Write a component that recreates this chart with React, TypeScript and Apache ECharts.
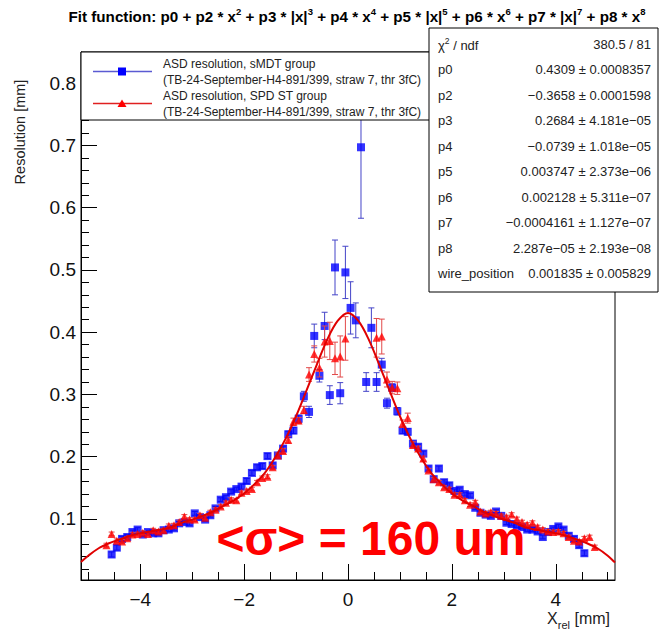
import React, { useEffect, useRef } from "react";
import * as echarts from "echarts";

// ---------- data ----------
const blueX = [
  -4.55, -4.45, -4.35, -4.25, -4.15, -4.05, -3.95, -3.85, -3.75, -3.65, -3.55, -3.45, -3.35, -3.25, -3.15, -3.05,
  -2.95, -2.85, -2.75, -2.65, -2.55, -2.45, -2.35, -2.25, -2.15, -2.05, -1.95, -1.85, -1.75, -1.65, -1.55, -1.45,
  -1.35, -1.25, -1.15, -1.05, -0.95, -0.85, -0.75, -0.65, -0.55, -0.45, -0.35, -0.25, -0.15, -0.05,
  0.05, 0.15, 0.25, 0.35, 0.45, 0.55, 0.65, 0.75, 0.85, 0.95, 1.05, 1.15, 1.25, 1.35, 1.45, 1.55,
  1.65, 1.75, 1.85, 1.95, 2.05, 2.15, 2.25, 2.35, 2.45, 2.55, 2.65, 2.75, 2.85, 2.95, 3.05, 3.15,
  3.25, 3.35, 3.45, 3.55, 3.65, 3.75, 3.85, 3.95, 4.05, 4.15, 4.25, 4.35, 4.45, 4.55,
];
const blueY = [
  0.043, 0.054, 0.068, 0.071, 0.079, 0.083, 0.075, 0.079, 0.077, 0.077, 0.082, 0.083, 0.085, 0.093, 0.095, 0.093,
  0.109, 0.103, 0.099, 0.106, 0.117, 0.131, 0.135, 0.144, 0.148, 0.152, 0.161, 0.174, 0.183, 0.185, 0.201, 0.186,
  0.202, 0.213, 0.236, 0.242, 0.261, 0.297, 0.272, 0.394, 0.330, 0.410, 0.299, 0.504, 0.302, 0.496,
  0.439, 0.419, 0.697, 0.320, 0.407, 0.320, 0.348, 0.286, 0.311, 0.273, 0.242, 0.240, 0.221, 0.216, 0.205, 0.181,
  0.164, 0.181, 0.159, 0.154, 0.145, 0.147, 0.140, 0.138, 0.118, 0.110, 0.107, 0.105, 0.112, 0.105, 0.094, 0.092,
  0.089, 0.087, 0.083, 0.083, 0.080, 0.071, 0.079, 0.084, 0.088, 0.083, 0.073, 0.068, 0.058, 0.045,
];
const blueErr = [
  0.004, 0.004, 0.004, 0.004, 0.003, 0.003, 0.003, 0.003, 0.003, 0.003, 0.003, 0.003, 0.003, 0.003, 0.003, 0.003,
  0.003, 0.003, 0.003, 0.003, 0.003, 0.003, 0.003, 0.003, 0.003, 0.004, 0.004, 0.004, 0.004, 0.004, 0.004, 0.004,
  0.004, 0.004, 0.005, 0.005, 0.006, 0.008, 0.009, 0.019, 0.010, 0.022, 0.015, 0.044, 0.017, 0.042,
  0.042, 0.028, 0.114, 0.015, 0.032, 0.015, 0.010, 0.008, 0.006, 0.006, 0.005, 0.005, 0.004, 0.004, 0.004, 0.004,
  0.004, 0.004, 0.004, 0.004, 0.003, 0.003, 0.003, 0.003, 0.003, 0.003, 0.003, 0.003, 0.003, 0.003, 0.003, 0.003,
  0.003, 0.003, 0.003, 0.003, 0.003, 0.003, 0.003, 0.003, 0.003, 0.003, 0.004, 0.004, 0.004, 0.004,
];

const redX = [
  -4.65, -4.55, -4.45, -4.35, -4.25, -4.15, -4.05, -3.95, -3.85, -3.75, -3.65, -3.55, -3.45, -3.35, -3.25, -3.15,
  -3.05, -2.95, -2.85, -2.75, -2.65, -2.55, -2.45, -2.35, -2.25, -2.15, -2.05, -1.95, -1.85, -1.75, -1.65, -1.55,
  -1.45, -1.35, -1.25, -1.15, -1.05, -0.95, -0.85, -0.75, -0.65, -0.55, -0.45, -0.35, -0.25, -0.15, -0.05,
  0.55, 0.65, 0.75, 0.85, 0.95, 1.05, 1.15, 1.25, 1.35, 1.45, 1.55, 1.65, 1.75, 1.85, 1.95, 2.05,
  2.15, 2.25, 2.35, 2.45, 2.55, 2.65, 2.75, 2.85, 2.95, 3.05, 3.15, 3.25, 3.35, 3.45, 3.55, 3.65,
  3.75, 3.85, 3.95, 4.05, 4.15, 4.25, 4.35, 4.45, 4.55, 4.65, 4.75,
];
const redY = [
  0.058, 0.076, 0.065, 0.064, 0.069, 0.075, 0.076, 0.078, 0.076, 0.082, 0.080, 0.082, 0.089, 0.090, 0.095, 0.104,
  0.099, 0.099, 0.106, 0.102, 0.111, 0.115, 0.120, 0.126, 0.131, 0.130, 0.142, 0.145, 0.148, 0.159, 0.166, 0.168,
  0.183, 0.202, 0.209, 0.227, 0.256, 0.258, 0.275, 0.332, 0.365, 0.343, 0.385, 0.386, 0.358, 0.361, 0.390,
  0.391, 0.393, 0.324, 0.311, 0.310, 0.253, 0.262, 0.219, 0.213, 0.197, 0.178, 0.164, 0.159, 0.151, 0.148, 0.139,
  0.139, 0.130, 0.123, 0.127, 0.112, 0.109, 0.111, 0.109, 0.105, 0.103, 0.107, 0.100, 0.095, 0.091, 0.094, 0.087,
  0.083, 0.080, 0.079, 0.080, 0.077, 0.071, 0.065, 0.064, 0.069, 0.071, 0.055,
];
const redErr = [
  0.003, 0.003, 0.003, 0.003, 0.003, 0.003, 0.003, 0.003, 0.003, 0.003, 0.003, 0.003, 0.003, 0.003, 0.003, 0.003,
  0.003, 0.003, 0.003, 0.003, 0.003, 0.003, 0.003, 0.003, 0.003, 0.003, 0.003, 0.003, 0.003, 0.003, 0.003, 0.003,
  0.003, 0.004, 0.004, 0.005, 0.006, 0.005, 0.006, 0.011, 0.013, 0.015, 0.025, 0.030, 0.026, 0.033, 0.035,
  0.031, 0.028, 0.012, 0.010, 0.010, 0.006, 0.008, 0.005, 0.004, 0.004, 0.003, 0.003, 0.003, 0.003, 0.003, 0.003,
  0.003, 0.003, 0.003, 0.003, 0.003, 0.003, 0.003, 0.003, 0.003, 0.003, 0.003, 0.003, 0.003, 0.003, 0.003, 0.003,
  0.003, 0.003, 0.003, 0.003, 0.003, 0.003, 0.003, 0.003, 0.003, 0.003, 0.003,
];

// fit curve
const fitX = [
  -5.14, -5.0, -4.8, -4.6, -4.4, -4.2, -4.0, -3.8, -3.6, -3.4, -3.2, -3.0, -2.8, -2.6, -2.4, -2.2, -2.0, -1.8,
  -1.6, -1.4, -1.2, -1.0, -0.8, -0.6, -0.4, -0.2, 0, 0.2, 0.4, 0.6, 0.8, 1.0, 1.2, 1.4, 1.6, 1.8, 2.0, 2.2, 2.4,
  2.6, 2.8, 3.0, 3.2, 3.4, 3.6, 3.8, 4.0, 4.2, 4.4, 4.6, 4.8, 5.0, 5.14,
];
const fitY = [
  0.031, 0.041, 0.053, 0.061, 0.067, 0.073, 0.077, 0.080, 0.083, 0.087, 0.094, 0.099, 0.105, 0.112, 0.121, 0.130,
  0.141, 0.156, 0.174, 0.199, 0.229, 0.265, 0.306, 0.348, 0.388, 0.418, 0.431, 0.418, 0.388, 0.348, 0.306, 0.265,
  0.229, 0.199, 0.174, 0.156, 0.141, 0.130, 0.121, 0.112, 0.105, 0.099, 0.094, 0.087, 0.083, 0.080, 0.077, 0.073,
  0.067, 0.061, 0.053, 0.041, 0.030,
];

const xMajorTicks = [-4, -2, 0, 2, 4];
const xMinorTicks = [-5, -4.5, -3.5, -3, -2.5, -1.5, -1, -0.5, 0.5, 1, 1.5, 2.5, 3, 3.5, 4.5, 5];
const yMajorTicks = [0.1, 0.2, 0.3, 0.4, 0.5, 0.6, 0.7, 0.8];
const yMinorTicks = [
  0.02, 0.04, 0.06, 0.08, 0.12, 0.14, 0.16, 0.18, 0.22, 0.24, 0.26, 0.28, 0.32, 0.34, 0.36, 0.38, 0.42, 0.44, 0.46,
  0.48, 0.52, 0.54, 0.56, 0.58, 0.62, 0.64, 0.66, 0.68, 0.72, 0.74, 0.76, 0.78, 0.82, 0.84,
];

const statLabels = ["p0", "p2", "p3", "p4", "p5", "p6", "p7", "p8", "wire_position"];
const statValues = [
  "0.4309 \u00b1 0.0008357",
  "\u22120.3658 \u00b1 0.0001598",
  "0.2684 \u00b1 4.181e\u221205",
  "\u22120.0739 \u00b1 1.018e\u221205",
  "0.003747 \u00b1 2.373e\u221206",
  "0.002128 \u00b1 5.311e\u221207",
  "\u22120.0004161 \u00b1 1.127e\u221207",
  "2.287e\u221205 \u00b1 2.193e\u221208",
  "0.001835 \u00b1 0.005829",
];
const chiValue = "380.5 / 81";
const legendNames = ["ASD resolution, sMDT group", "ASD resolution, SPD ST group"];
const legendSub = "(TB-24-September-H4-891/399, straw 7, thr 3fC)";

const X_MIN = -5.14;
const X_MAX = 5.14;
const Y_MIN = 0.002;
const Y_MAX = 0.85;

const FONT = "'Liberation Sans', Arial, Helvetica, sans-serif";
const BLUE = "#0000ff";
const BLUE_BAR = "#4444c8";
const RED = "#ff0000";
const RED_BAR = "#e24a4a";

function zip3(xs: number[], ys: number[], es: number[]) {
  return xs.map((x, i) => [x, ys[i], es[i]]);
}

function errRender(color: string) {
  return (params: any, api: any) => {
    const x = api.value(0);
    const y = api.value(1);
    const e = api.value(2);
    const top = api.coord([x, y + e]);
    const bot = api.coord([x, y - e]);
    const st = { stroke: color, lineWidth: 1 };
    return {
      type: "group",
      children: [
        { type: "line", shape: { x1: top[0], y1: top[1], x2: bot[0], y2: bot[1] }, style: st },
        { type: "line", shape: { x1: top[0] - 3, y1: top[1], x2: top[0] + 3, y2: top[1] }, style: st },
        { type: "line", shape: { x1: bot[0] - 3, y1: bot[1], x2: bot[0] + 3, y2: bot[1] }, style: st },
      ],
    };
  };
}

function minusFmt(v: number) {
  return v < 0 ? "\u2212" + Math.abs(v) : String(v);
}

export default function App() {
  const ref = useRef<HTMLDivElement>(null);
  useEffect(() => {
    if (!ref.current) return;
    const chart = echarts.init(ref.current, null, { renderer: "svg" });

    const baseAxis = { type: "value", splitLine: { show: false } };
    const titleRich =
      "{b|Fit function: p0 + p2 * x}{s|2}{b| + p3 * |x|}{s|3}{b| + p4 * x}{s|4}{b| + p5 * |x|}{s|5}" +
      "{b| + p6 * x}{s|6}{b| + p7 * |x|}{s|7}{b| + p8 * x}{s|8}";

    const statTop = 28;
    const statLeft = 429;
    const statRight = 658;
    const rowStep = 25.5;
    const graphics: any[] = [];

    // title
    graphics.push({
      type: "text",
      z: 20,
      style: {
        x: 357,
        y: 15,
        text: titleRich,
        textAlign: "center",
        textVerticalAlign: "middle",
        rich: {
          b: { fontSize: 15.2, fontWeight: "bold", fontFamily: FONT, fill: "#000", lineHeight: 18, verticalAlign: "bottom" },
          s: { fontSize: 9.5, fontWeight: "bold", fontFamily: FONT, fill: "#000", lineHeight: 13, verticalAlign: "top" },
        },
      },
    });

    // legend box
    graphics.push({
      type: "rect",
      z: 20,
      shape: { x: 81, y: 52, width: 349, height: 68 },
      style: { fill: "#fff", stroke: "#000", lineWidth: 1 },
    });
    const legRows = [63.5, 79.5, 95.5, 111.5];
    graphics.push(
      { type: "line", z: 21, shape: { x1: 93, y1: 71.5, x2: 152, y2: 71.5 }, style: { stroke: "#5a5ad2", lineWidth: 1.5 } },
      { type: "rect", z: 22, shape: { x: 118, y: 67.5, width: 8, height: 8 }, style: { fill: BLUE } },
      { type: "line", z: 21, shape: { x1: 93, y1: 103.5, x2: 152, y2: 103.5 }, style: { stroke: "#e02020", lineWidth: 1.5 } },
      {
        type: "polygon",
        z: 22,
        shape: { points: [[122, 99.5], [126.5, 107], [117.5, 107]] },
        style: { fill: RED },
      }
    );
    const legTexts = [legendNames[0], legendSub, legendNames[1], legendSub];
    legTexts.forEach((t, i) => {
      graphics.push({
        type: "text",
        z: 22,
        style: {
          x: 163,
          y: legRows[i],
          text: t,
          fontSize: 12,
          fontFamily: FONT,
          fill: "#222",
          textAlign: "left",
          textVerticalAlign: "middle",
        },
      });
    });

    // stats box
    graphics.push({
      type: "rect",
      z: 20,
      shape: { x: statLeft, y: statTop, width: statRight - statLeft, height: 264 },
      style: { fill: "#fff", stroke: "#000", lineWidth: 1 },
    });
    graphics.push({
      type: "text",
      z: 22,
      style: {
        x: 438,
        y: 44,
        text: "{a|\u03c7}{s|2}{a| / ndf}",
        textAlign: "left",
        textVerticalAlign: "middle",
        rich: {
          a: { fontSize: 13, fontFamily: FONT, fill: "#222", lineHeight: 16, verticalAlign: "bottom" },
          s: { fontSize: 8.5, fontFamily: FONT, fill: "#222", lineHeight: 12, verticalAlign: "top" },
        },
      },
    });
    graphics.push({
      type: "text",
      z: 22,
      style: {
        x: 651,
        y: 44,
        text: chiValue,
        fontSize: 13,
        fontFamily: FONT,
        fill: "#222",
        textAlign: "right",
        textVerticalAlign: "middle",
      },
    });
    statLabels.forEach((lab, i) => {
      const y = 44 + rowStep * (i + 1);
      graphics.push({
        type: "text",
        z: 22,
        style: { x: 438, y, text: lab, fontSize: 13, fontFamily: FONT, fill: "#222", textAlign: "left", textVerticalAlign: "middle" },
      });
      graphics.push({
        type: "text",
        z: 22,
        style: {
          x: 651,
          y,
          text: statValues[i],
          fontSize: 13,
          fontFamily: FONT,
          fill: "#222",
          textAlign: "right",
          textVerticalAlign: "middle",
        },
      });
    });

    // axis titles
    graphics.push({
      type: "text",
      z: 20,
      x: 20,
      y: 132,
      rotation: Math.PI / 2,
      style: {
        x: 0,
        y: 0,
        text: "Resolution [mm]",
        fontSize: 14.5,
        fontFamily: FONT,
        fill: "#222",
        textAlign: "center",
        textVerticalAlign: "middle",
      },
    });
    graphics.push({
      type: "text",
      z: 20,
      style: {
        x: 610,
        y: 620,
        text: "{a|X}{s|rel}{a| [mm]}",
        textAlign: "right",
        textVerticalAlign: "middle",
        rich: {
          a: { fontSize: 16, fontFamily: FONT, fill: "#222", lineHeight: 20, verticalAlign: "top" },
          s: { fontSize: 11, fontFamily: FONT, fill: "#222", lineHeight: 12, verticalAlign: "bottom" },
        },
      },
    });

    // annotation
    graphics.push({
      type: "text",
      z: 25,
      style: {
        x: 371,
        y: 538,
        text: "<\u03c3> = 160 um",
        fontSize: 48,
        fontWeight: "bold",
        fontFamily: FONT,
        fill: "#ff0000",
        textAlign: "center",
        textVerticalAlign: "middle",
      },
    });

    const option: any = {
      animation: false,
      backgroundColor: "#ffffff",
      grid: {
        left: 81,
        right: 52,
        top: 52,
        bottom: 54,
        show: true,
        borderColor: "#000",
        borderWidth: 1,
        backgroundColor: "transparent",
      },
      xAxis: [
        {
          ...baseAxis,
          min: X_MIN,
          max: X_MAX,
          position: "bottom",
          axisLine: { show: true, onZero: false, lineStyle: { color: "#000", width: 1 } },
          axisTick: { show: true, inside: true, length: 16, customValues: xMajorTicks, lineStyle: { color: "#000" } },
          axisLabel: {
            customValues: xMajorTicks,
            fontSize: 19,
            fontFamily: FONT,
            color: "#111",
            margin: 10,
            formatter: minusFmt,
          },
        },
        {
          ...baseAxis,
          min: X_MIN,
          max: X_MAX,
          position: "bottom",
          axisLine: { show: false, onZero: false },
          axisTick: { show: true, inside: true, length: 8, customValues: xMinorTicks, lineStyle: { color: "#000" } },
          axisLabel: { show: false },
        },
      ],
      yAxis: [
        {
          ...baseAxis,
          min: Y_MIN,
          max: Y_MAX,
          position: "left",
          axisLine: { show: true, onZero: false, lineStyle: { color: "#000", width: 1 } },
          axisTick: { show: true, inside: true, length: 16, customValues: yMajorTicks, lineStyle: { color: "#000" } },
          axisLabel: {
            customValues: yMajorTicks,
            fontSize: 19,
            fontFamily: FONT,
            color: "#111",
            margin: 5,
            formatter: (v: number) => v.toFixed(1),
          },
        },
        {
          ...baseAxis,
          min: Y_MIN,
          max: Y_MAX,
          position: "left",
          axisLine: { show: false, onZero: false },
          axisTick: { show: true, inside: true, length: 8, customValues: yMinorTicks, lineStyle: { color: "#000" } },
          axisLabel: { show: false },
        },
      ],
      series: [
        {
          type: "custom",
          name: "blueErr",
          xAxisIndex: 0,
          yAxisIndex: 0,
          renderItem: errRender(BLUE_BAR),
          data: zip3(blueX, blueY, blueErr),
          encode: { x: 0, y: 1 },
          z: 3,
        },
        {
          type: "scatter",
          name: legendNames[0],
          xAxisIndex: 0,
          yAxisIndex: 0,
          symbol: "rect",
          symbolSize: 8,
          itemStyle: { color: BLUE },
          data: blueX.map((x, i) => [x, blueY[i]]),
          z: 4,
        },
        {
          type: "custom",
          name: "redErr",
          xAxisIndex: 0,
          yAxisIndex: 0,
          renderItem: errRender(RED_BAR),
          data: zip3(redX, redY, redErr),
          encode: { x: 0, y: 1 },
          z: 5,
        },
        {
          type: "scatter",
          name: legendNames[1],
          xAxisIndex: 0,
          yAxisIndex: 0,
          symbol: "triangle",
          symbolSize: 8,
          itemStyle: { color: RED },
          data: redX.map((x, i) => [x, redY[i]]),
          z: 6,
        },
        {
          type: "line",
          name: "fit",
          xAxisIndex: 0,
          yAxisIndex: 0,
          smooth: 0.35,
          showSymbol: false,
          symbol: "none",
          lineStyle: { color: "#e00000", width: 2 },
          data: fitX.map((x, i) => [x, fitY[i]]),
          z: 7,
        },
      ],
      graphic: graphics,
    };
    chart.setOption(option);
    return () => chart.dispose();
  }, []);

  return (
    <div
      ref={ref}
      style={{ position: "fixed", left: 0, top: 0, width: 667, height: 634, background: "#fff" }}
    />
  );
}
